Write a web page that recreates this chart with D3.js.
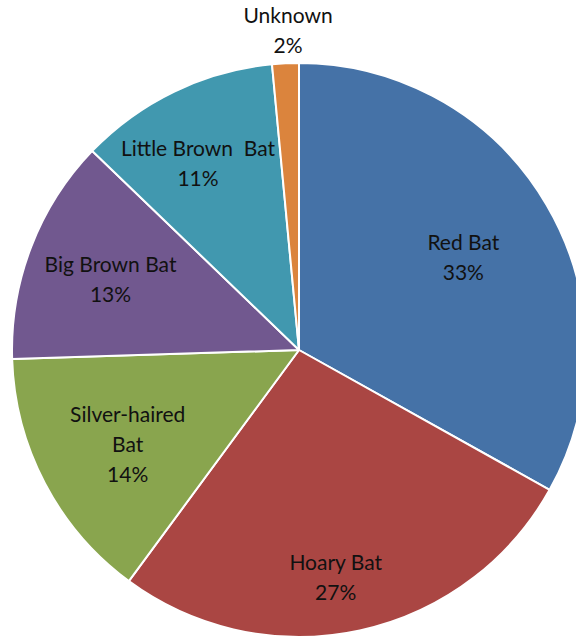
<!DOCTYPE html>
<html><head><meta charset="utf-8">
<script src="https://cdn.jsdelivr.net/npm/d3@7"></script>
<style>
html,body{margin:0;padding:0;background:#fff;overflow:hidden;}
svg{display:block;}
text{font-family:"Lato","Open Sans",sans-serif;font-size:21px;fill:#111;}
</style></head>
<body>
<svg id="chart" width="576" height="641"></svg>
<script>
const categories = ["Red Bat", "Hoary Bat", "Silver-haired Bat", "Big Brown Bat", "Little Brown Bat", "Unknown"];
const values = [33.1, 27.0, 14.4, 12.7, 11.3, 1.5];
const percentLabels = ["33%", "27%", "14%", "13%", "11%", "2%"];
const labelLines = [["Red Bat"], ["Hoary Bat"], ["Silver-haired", "Bat"], ["Big Brown Bat"], ["Little Brown  Bat"], ["Unknown"]];
const colors = ["#4572A7", "#AA4643", "#89A54E", "#71588F", "#4198AF", "#DB843D"];

const svg = d3.select("#chart");
const cx = 299, cy = 350, R = 287;
const g = svg.append("g").attr("transform", `translate(${cx},${cy})`);

const pie = d3.pie().sort(null).value(d => d)(values);
const arc = d3.arc().innerRadius(0).outerRadius(R);

g.selectAll("path").data(pie).join("path")
  .attr("d", arc)
  .attr("fill", (d, i) => colors[i])
  .attr("stroke", "#fff")
  .attr("stroke-width", 2)
  .attr("stroke-linejoin", "round");

// label placement: radius factor per slice (layout only)
const labelRadius = [0.66, 0.80, 0.69, 0.70, 0.73, 1.13];
const labelShift = [[1, 4], [-12, 3], [4, 3], [-1, 2], [-10, 2], [-4, 0]];
const lineH = 30;
pie.forEach((d, i) => {
  const a = (d.startAngle + d.endAngle) / 2;
  const r = R * labelRadius[i];
  let x = Math.sin(a) * r + labelShift[i][0];
  let y = -Math.cos(a) * r + labelShift[i][1];
  const lines = labelLines[i].concat([percentLabels[i]]);
  if (i === 5) { x = 288 - cx; y = 31 - cy; }
  const t = g.append("text").attr("text-anchor", "middle").attr("xml:space", "preserve");
  const y0 = y - (lines.length - 1) * lineH / 2;
  lines.forEach((s, k) => {
    t.append("tspan").attr("x", x).attr("y", y0 + k * lineH).attr("dy", "0.35em").text(s);
  });
});
</script>
</body></html>
